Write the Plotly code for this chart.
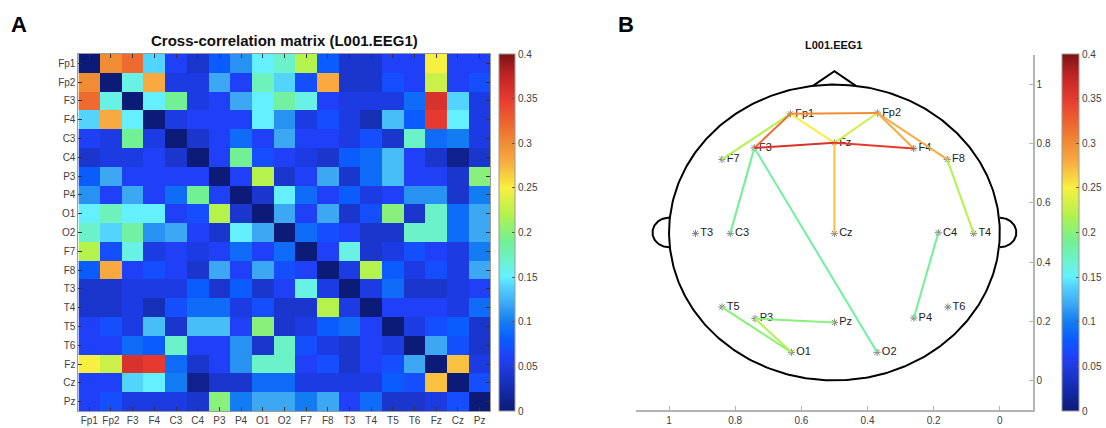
import numpy as np
import plotly.graph_objects as go

# ---------------------------------------------------------------- data
channels = ["Fp1", "Fp2", "F3", "F4", "C3", "C4", "P3", "P4", "O1", "O2",
            "F7", "F8", "T3", "T4", "T5", "T6", "Fz", "Cz", "Pz"]

# symmetric cross-correlation matrix, rows/cols in the order of `channels`
xcorr = [
    [0.00, 0.30, 0.32, 0.14, 0.06, 0.04, 0.08, 0.11, 0.15, 0.17, 0.22, 0.08, 0.04, 0.04, 0.06, 0.06, 0.25, 0.06, 0.06],
    [0.30, 0.00, 0.16, 0.28, 0.05, 0.05, 0.12, 0.06, 0.175, 0.14, 0.07, 0.28, 0.04, 0.04, 0.07, 0.06, 0.23, 0.06, 0.07],
    [0.32, 0.16, 0.00, 0.15, 0.19, 0.05, 0.06, 0.12, 0.15, 0.185, 0.16, 0.06, 0.05, 0.05, 0.05, 0.09, 0.36, 0.14, 0.05],
    [0.14, 0.28, 0.15, 0.00, 0.05, 0.06, 0.06, 0.06, 0.15, 0.11, 0.05, 0.07, 0.05, 0.03, 0.13, 0.08, 0.35, 0.15, 0.05],
    [0.06, 0.05, 0.19, 0.05, 0.00, 0.04, 0.06, 0.09, 0.06, 0.12, 0.06, 0.06, 0.05, 0.07, 0.04, 0.17, 0.09, 0.10, 0.05],
    [0.04, 0.05, 0.05, 0.06, 0.04, 0.00, 0.06, 0.19, 0.07, 0.06, 0.05, 0.04, 0.08, 0.09, 0.13, 0.06, 0.04, 0.01, 0.04],
    [0.08, 0.12, 0.06, 0.06, 0.06, 0.06, 0.00, 0.06, 0.22, 0.04, 0.06, 0.12, 0.04, 0.09, 0.13, 0.06, 0.06, 0.04, 0.20],
    [0.11, 0.06, 0.12, 0.06, 0.09, 0.19, 0.06, 0.00, 0.04, 0.15, 0.09, 0.06, 0.08, 0.05, 0.06, 0.11, 0.11, 0.04, 0.10],
    [0.15, 0.175, 0.15, 0.15, 0.06, 0.07, 0.22, 0.04, 0.00, 0.12, 0.06, 0.12, 0.04, 0.07, 0.20, 0.04, 0.17, 0.09, 0.12],
    [0.17, 0.14, 0.185, 0.11, 0.12, 0.06, 0.04, 0.15, 0.12, 0.00, 0.09, 0.07, 0.06, 0.04, 0.04, 0.17, 0.17, 0.09, 0.12],
    [0.22, 0.07, 0.16, 0.05, 0.06, 0.05, 0.06, 0.09, 0.06, 0.09, 0.00, 0.06, 0.16, 0.04, 0.05, 0.07, 0.06, 0.05, 0.10],
    [0.08, 0.28, 0.06, 0.07, 0.06, 0.04, 0.12, 0.06, 0.12, 0.07, 0.06, 0.00, 0.05, 0.22, 0.08, 0.05, 0.07, 0.05, 0.12],
    [0.04, 0.04, 0.05, 0.05, 0.05, 0.08, 0.04, 0.08, 0.04, 0.06, 0.16, 0.05, 0.00, 0.05, 0.09, 0.04, 0.04, 0.05, 0.06],
    [0.04, 0.04, 0.05, 0.03, 0.07, 0.09, 0.09, 0.05, 0.07, 0.04, 0.04, 0.22, 0.05, 0.00, 0.06, 0.06, 0.06, 0.05, 0.09],
    [0.06, 0.07, 0.05, 0.13, 0.04, 0.13, 0.13, 0.06, 0.20, 0.04, 0.05, 0.08, 0.09, 0.06, 0.00, 0.05, 0.07, 0.08, 0.04],
    [0.06, 0.06, 0.09, 0.08, 0.17, 0.06, 0.06, 0.11, 0.04, 0.17, 0.07, 0.05, 0.04, 0.06, 0.05, 0.00, 0.12, 0.07, 0.04],
    [0.25, 0.23, 0.36, 0.35, 0.09, 0.04, 0.06, 0.11, 0.17, 0.17, 0.06, 0.07, 0.04, 0.06, 0.07, 0.12, 0.00, 0.27, 0.05],
    [0.06, 0.06, 0.14, 0.15, 0.10, 0.01, 0.04, 0.04, 0.09, 0.09, 0.05, 0.05, 0.05, 0.05, 0.08, 0.07, 0.27, 0.00, 0.07],
    [0.06, 0.07, 0.05, 0.05, 0.05, 0.04, 0.20, 0.10, 0.12, 0.12, 0.10, 0.12, 0.06, 0.09, 0.04, 0.04, 0.05, 0.07, 0.00],
]

# electrode positions on the unit head (x runs from right ear 0 to left ear 1)
elec_x = [0.633, 0.370, 0.742, 0.260, 0.815, 0.186, 0.740, 0.260, 0.630, 0.371,
          0.840, 0.159, 0.920, 0.079, 0.840, 0.157, 0.500, 0.500, 0.500]
elec_y = [0.901, 0.904, 0.786, 0.784, 0.497, 0.499, 0.209, 0.211, 0.095, 0.095,
          0.747, 0.747, 0.497, 0.497, 0.248, 0.248, 0.803, 0.497, 0.196]

edge_threshold = 0.18
cmin, cmax = 0.0, 0.4
cbar_ticks = [0, 0.05, 0.1, 0.15, 0.2, 0.25, 0.3, 0.35, 0.4]
head_ticks = [0, 0.2, 0.4, 0.6, 0.8, 1]

# ---------------------------------------------------------------- colours
jet_stops = [
    (0.000, "#0c1a78"), (0.100, "#1a36cc"), (0.150, "#2040f8"), (0.200, "#0a5cff"),
    (0.250, "#147cf2"), (0.300, "#3ca8f4"), (0.350, "#52d4fc"), (0.375, "#64f0ff"),
    (0.425, "#6cf2c8"), (0.475, "#72f094"), (0.550, "#b4f24c"), (0.625, "#f8f040"),
    (0.700, "#f8aa40"), (0.750, "#f08c34"), (0.800, "#ee6a30"), (0.875, "#e63a30"),
    (0.940, "#c02424"), (1.000, "#7c1414"),
]
colorscale = [[p, c] for p, c in jet_stops]


def _rgb(h):
    h = h.lstrip("#")
    return [int(h[i:i + 2], 16) for i in (0, 2, 4)]


def value_color(v):
    t = min(max((v - cmin) / (cmax - cmin), 0.0), 1.0)
    for (p0, c0), (p1, c1) in zip(jet_stops[:-1], jet_stops[1:]):
        if p0 <= t <= p1:
            f = (t - p0) / (p1 - p0) if p1 > p0 else 0.0
            a, b = _rgb(c0), _rgb(c1)
            r, g, bl = (round(a[k] + f * (b[k] - a[k])) for k in range(3))
            return f"rgb({r},{g},{bl})"
    return jet_stops[-1][1]


W, H = 1106, 428
FONT = "Liberation Sans, Arial, Helvetica, sans-serif"
TICK_COL = "#404040"


def px_x(p):
    return p / W


def px_y(p):
    return 1 - p / H


fig = go.Figure()

# ---------------------------------------------------------------- panel A: matrix
fig.add_trace(go.Heatmap(
    z=xcorr, x=channels, y=channels, colorscale=colorscale, zmin=cmin, zmax=cmax,
    xaxis="x", yaxis="y", hoverongaps=False,
    colorbar=dict(
        x=px_x(503), xanchor="left", xpad=0, ypad=0,
        y=px_y(232.5), yanchor="middle", len=(411 - 54) / H, lenmode="fraction",
        thickness=16, thicknessmode="pixels",
        outlinecolor="#9a9a9a", outlinewidth=1,
        tickvals=cbar_ticks, ticktext=[f"{v:g}" for v in cbar_ticks],
        ticks="inside", ticklen=3, tickcolor="#555555",
        tickfont=dict(family=FONT, size=10, color=TICK_COL),
    ),
))

# ---------------------------------------------------------------- panel B: head map
# electrodes (drawn first so the connection lines sit on top of the labels)
fig.add_trace(go.Scatter(
    x=elec_x, y=elec_y, mode="markers+text", text=channels, textposition="middle right",
    textfont=dict(family=FONT, size=11, color="#222222"),
    marker=dict(symbol="asterisk-open", size=6, color="#808080",
                line=dict(color="#808080", width=1)),
    xaxis="x2", yaxis="y2", hoverinfo="text", showlegend=False,
))

# connections above threshold, coloured by their correlation value
n = len(channels)
edges = [(i, j) for i in range(n) for j in range(i + 1, n) if xcorr[i][j] >= edge_threshold]
edges.sort(key=lambda e: xcorr[e[0]][e[1]])
for i, j in edges:
    v = xcorr[i][j]
    fig.add_trace(go.Scatter(
        x=[elec_x[i], elec_x[j]], y=[elec_y[i], elec_y[j]], mode="lines",
        line=dict(color=value_color(v), width=2),
        xaxis="x2", yaxis="y2", hoverinfo="skip", showlegend=False,
    ))

# head outline, ears and nose
t = np.linspace(0, 2 * np.pi, 361)
head_style = dict(color="black", width=2)
fig.add_trace(go.Scatter(x=0.5 + 0.5 * np.cos(t), y=0.5 + 0.5 * np.sin(t), mode="lines",
                         line=head_style, xaxis="x2", yaxis="y2", hoverinfo="skip", showlegend=False))
te = np.linspace(-np.pi / 2, np.pi / 2, 91)
for cx, sgn in ((1.0, 1), (0.0, -1)):
    fig.add_trace(go.Scatter(x=cx + sgn * 0.05 * np.cos(te), y=0.5 + 0.05 * np.sin(te), mode="lines",
                             line=head_style, xaxis="x2", yaxis="y2", hoverinfo="skip", showlegend=False))
nose_half = 0.065
nose_base = 0.5 + np.sqrt(0.25 - nose_half ** 2)
fig.add_trace(go.Scatter(x=[0.5 + nose_half, 0.5, 0.5 - nose_half], y=[nose_base, 1.045, nose_base],
                         mode="lines", line=head_style, xaxis="x2", yaxis="y2",
                         hoverinfo="skip", showlegend=False))

# colour bar for the connection colours
fig.add_trace(go.Scatter(
    x=[0.5, 0.5], y=[0.5, 0.5], mode="markers", xaxis="x2", yaxis="y2",
    marker=dict(color=[cmin, cmax], colorscale=colorscale, cmin=cmin, cmax=cmax, size=1, opacity=0,
                showscale=True,
                colorbar=dict(
                    x=px_x(1070), xanchor="left", xpad=0, ypad=0,
                    y=px_y(232.5), yanchor="middle", len=(411 - 54) / H, lenmode="fraction",
                    thickness=17, thicknessmode="pixels",
                    outlinecolor="#9a9a9a", outlinewidth=1,
                    tickvals=cbar_ticks, ticktext=[f"{v:g}" for v in cbar_ticks],
                    ticks="inside", ticklen=3, tickcolor="#555555",
                    tickfont=dict(family=FONT, size=10, color=TICK_COL),
                )),
    hoverinfo="skip", showlegend=False,
))

# ---------------------------------------------------------------- layout
label = dict(xref="paper", yref="paper", xanchor="center", yanchor="middle", showarrow=False)
fig.update_layout(
    width=W, height=H, margin=dict(l=0, r=0, t=0, b=0),
    paper_bgcolor="white", plot_bgcolor="white", showlegend=False,
    font=dict(family=FONT, size=10, color=TICK_COL),
    xaxis=dict(
        domain=[px_x(79), px_x(494)], anchor="y", type="category",
        showline=True, linecolor="#9a9a9a", linewidth=1, mirror="ticks",
        ticks="inside", ticklen=4, tickcolor="#333333",
        tickfont=dict(family=FONT, size=10, color=TICK_COL), showgrid=False, zeroline=False,
    ),
    yaxis=dict(
        domain=[px_y(411), px_y(54)], anchor="x", type="category", autorange="reversed",
        showline=True, linecolor="#9a9a9a", linewidth=1, mirror="ticks",
        ticks="inside", ticklen=4, tickcolor="#333333",
        tickfont=dict(family=FONT, size=10, color=TICK_COL), showgrid=False, zeroline=False,
    ),
    xaxis2=dict(
        domain=[px_x(640.6), px_x(1040.4)], anchor="y2", range=[1.1, -0.1],
        tickvals=head_ticks, ticktext=[f"{v:g}" for v in head_ticks],
        showline=True, linecolor="#b4b4b4", linewidth=1.5,
        ticks="inside", ticklen=4, tickcolor="#b4b4b4",
        tickfont=dict(family=FONT, size=10, color=TICK_COL), showgrid=False, zeroline=False,
    ),
    yaxis2=dict(
        domain=[px_y(410), px_y(55)], anchor="x2", side="right", range=[-0.1, 1.1],
        tickvals=head_ticks, ticktext=[f"{v:g}" for v in head_ticks],
        showline=True, linecolor="#b4b4b4", linewidth=1.5,
        ticks="inside", ticklen=4, tickcolor="#b4b4b4",
        tickfont=dict(family=FONT, size=10, color=TICK_COL), showgrid=False, zeroline=False,
    ),
    annotations=[
        dict(text="<b>A</b>", x=px_x(19), y=px_y(24),
             font=dict(family=FONT, size=22, color="black"), **label),
        dict(text="<b>B</b>", x=px_x(631), y=px_y(24),
             font=dict(family=FONT, size=22, color="black"), **label),
        dict(text="<b>Cross-correlation matrix (L001.EEG1)</b>", x=px_x(287), y=px_y(40),
             font=dict(family=FONT, size=15, color="#111111"), **label),
        dict(text="<b>L001.EEG1</b>", x=px_x(840), y=px_y(45),
             font=dict(family=FONT, size=11, color="#111111"), **label),
    ],
)

fig.write_html("out.html")
